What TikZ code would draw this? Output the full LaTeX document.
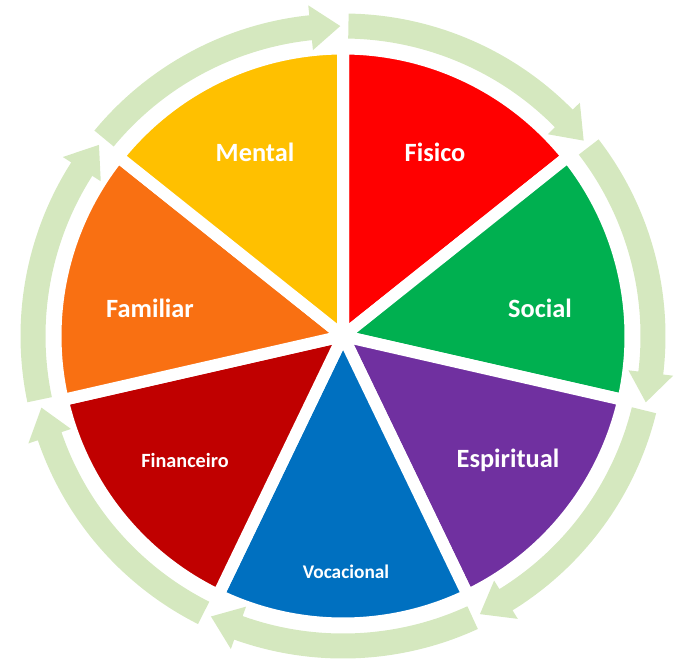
\documentclass[tikz,border=0pt]{standalone}
\usepackage{fontspec}
\setmainfont{Carlito}
\usetikzlibrary{calc}
\definecolor{cFis}{HTML}{FF0000}
\definecolor{cSoc}{HTML}{00B050}
\definecolor{cEsp}{HTML}{7030A0}
\definecolor{cVoc}{HTML}{0070C0}
\definecolor{cFin}{HTML}{C00000}
\definecolor{cFam}{HTML}{F97012}
\definecolor{cMen}{HTML}{FFC000}
\definecolor{cArr}{HTML}{D5E8BF}
\tikzstyle{sS}=[draw=white, line width=0.24cm, line join=miter]
\tikzstyle{aS}=[fill=cArr]
\tikzstyle{lS}=[text=white, font=\bfseries, inner sep=0pt]

\begin{document}
\begin{tikzpicture}
    \useasboundingbox (0,0) rectangle (13.72,-13.24);
    \coordinate (c) at (6.86,-6.72);

    % sectors and arrows
    \foreach \i/\col in {0/cFis,1/cSoc,2/cEsp,3/cVoc,4/cFin,5/cFam,6/cMen}{
        \pgfmathsetmacro{\a}{90-\i*360/7}
        \pgfmathsetmacro{\b}{\a-360/7}
        \pgfmathsetmacro{\s}{\a-1}
        \pgfmathsetmacro{\h}{\b+6}
        \pgfmathsetmacro{\e}{\b+0.5}
        \fill[\col,sS] (c) -- ($(c)+(\a:5.75)$) arc (\a:\b:5.75) -- cycle;
        \fill[aS] ($(c)+(\s:5.95)$) arc (\s:\h:5.95) -- ($(c)+(\h:5.75)$)
            -- ($(c)+(\e:6.2)$) -- ($(c)+(\h:6.65)$) -- ($(c)+(\h:6.45)$)
            arc (\h:\s:6.45) -- cycle;
    }

    \node[lS, font=\bfseries\fontsize{15}{15}\selectfont] (lFis) at (8.7,-3.04) {Fisico};
    \node[lS, font=\bfseries\fontsize{15}{15}\selectfont] (lSoc) at (10.8,-6.16) {Social};
    \node[lS, font=\bfseries\fontsize{15}{15}\selectfont] (lEsp) at (10.16,-9.2) {Espiritual};
    \node[lS, font=\bfseries\fontsize{11}{11}\selectfont] (lVoc) at (6.92,-11.44) {Vocacional};
    \node[lS, font=\bfseries\fontsize{11.5}{11.5}\selectfont] (lFin) at (3.7,-9.2) {Financeiro};
    \node[lS, font=\bfseries\fontsize{15}{15}\selectfont] (lFam) at (3.0,-6.16) {Familiar};
    \node[lS, font=\bfseries\fontsize{15}{15}\selectfont] (lMen) at (5.1,-3.04) {Mental};
\end{tikzpicture}
\end{document}
